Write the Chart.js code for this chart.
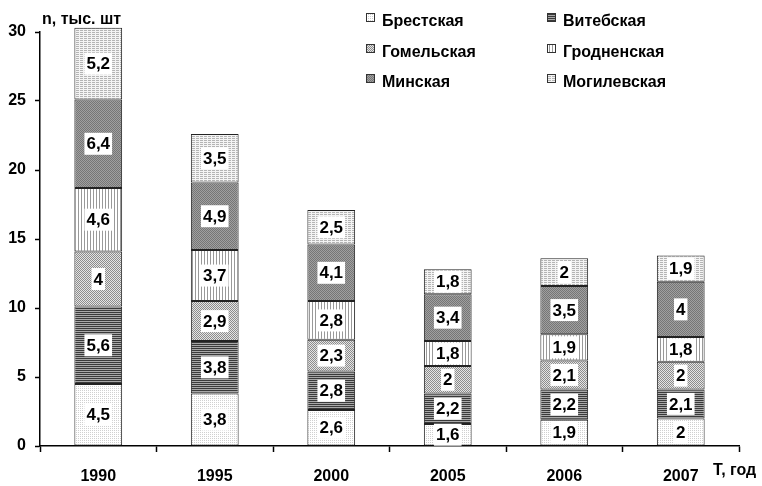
<!DOCTYPE html>
<html>
<head>
<meta charset="utf-8">
<script src="https://cdn.jsdelivr.net/npm/chart.js@4.4.0/dist/chart.umd.min.js"></script>
<style>
  html, body { margin: 0; padding: 0; background: #fff; }
  #wrap { width: 762px; height: 486px; position: relative; }
</style>
</head>
<body>
<div id="wrap"><canvas id="chart"></canvas></div>
<script>
// Data
const years = ['1990', '1995', '2000', '2005', '2006', '2007'];
const regions = ['Брестская', 'Витебская', 'Гомельская', 'Гродненская', 'Минская', 'Могилевская'];
const brest    = [4.5, 3.8, 2.6, 1.6, 1.9, 2.0];
const vitebsk  = [5.6, 3.8, 2.8, 2.2, 2.2, 2.1];
const gomel    = [4.0, 2.9, 2.3, 2.0, 2.1, 2.0];
const grodno   = [4.6, 3.7, 2.8, 1.8, 1.9, 1.8];
const minsk    = [6.4, 4.9, 4.1, 3.4, 3.5, 4.0];
const mogilev  = [5.2, 3.5, 2.5, 1.8, 2.0, 1.9];
const seriesValues = [brest, vitebsk, gomel, grodno, minsk, mogilev];

// Hatch patterns drawn on small canvases
function makePattern(w, h, draw) {
    const c = document.createElement('canvas');
    c.width = w; c.height = h;
    const g = c.getContext('2d');
    draw(g);
    return document.getElementById('chart').getContext('2d').createPattern(c, 'repeat');
}
const patterns = [
    makePattern(2, 2, g => { // Brest: fine light dots
        g.fillStyle = '#fff'; g.fillRect(0, 0, 2, 2);
        g.fillStyle = '#d0d0d0'; g.fillRect(0, 0, 1, 1);
    }),
    makePattern(2, 2, g => { // Vitebsk: dark horizontal lines
        g.fillStyle = '#a8a8a8'; g.fillRect(0, 0, 2, 2);
        g.fillStyle = '#3a3a3a'; g.fillRect(0, 0, 2, 1);
    }),
    makePattern(2, 2, g => { // Gomel: checker dots
        g.fillStyle = '#e4e4e4'; g.fillRect(0, 0, 2, 2);
        g.fillStyle = '#8c8c8c'; g.fillRect(0, 0, 1, 1); g.fillRect(1, 1, 1, 1);
    }),
    makePattern(3, 3, g => { // Grodno: vertical lines
        g.fillStyle = '#fff'; g.fillRect(0, 0, 3, 3);
        g.fillStyle = '#999'; g.fillRect(0, 0, 1, 3);
    }),
    makePattern(2, 2, g => { // Minsk: dark dots
        g.fillStyle = '#a0a0a0'; g.fillRect(0, 0, 2, 2);
        g.fillStyle = '#767676'; g.fillRect(0, 0, 1, 1); g.fillRect(1, 1, 1, 1);
    }),
    makePattern(4, 2, g => { // Mogilev: light horizontal dashes
        g.fillStyle = '#f4f4f4'; g.fillRect(0, 0, 4, 2);
        g.fillStyle = '#b4b4b4'; g.fillRect(0, 0, 3, 1);
    })
];

const FONT = 'Liberation Sans, Arial, sans-serif';

// Value labels in white boxes + legend + axis titles
const decorPlugin = {
    id: 'decor',
    afterDatasetsDraw(chart) {
        const ctx = chart.ctx;
        ctx.save();
        ctx.font = 'bold 17px ' + FONT;
        ctx.textAlign = 'center';
        ctx.textBaseline = 'middle';
        chart.data.datasets.forEach((ds, i) => {
            chart.getDatasetMeta(i).data.forEach((bar, j) => {
                const txt = String(ds.data[j]).replace('.', ',');
                const cy = (bar.y + bar.base) / 2;
                const w = ctx.measureText(txt).width + 4;
                ctx.fillStyle = '#fff';
                ctx.fillRect(bar.x - w / 2, cy - 11, w, 22);
                ctx.fillStyle = '#000';
                ctx.fillText(txt, bar.x, cy + 1);
            });
        });
        ctx.restore();
    },
    afterDraw(chart) {
        const ctx = chart.ctx;
        ctx.save();
        ctx.font = 'bold 16px ' + FONT;
        ctx.textBaseline = 'alphabetic';
        ctx.textAlign = 'left';
        const cols = [366, 547];
        const rows = [26, 57, 87];
        regions.forEach((name, i) => {
            const x = cols[i % 2], y = rows[Math.floor(i / 2)];
            ctx.fillStyle = patterns[i];
            ctx.fillRect(x, y - 13, 9, 9);
            ctx.strokeStyle = '#333';
            ctx.lineWidth = 1;
            ctx.strokeRect(x + 0.5, y - 12.5, 8, 8);
            ctx.fillStyle = '#000';
            ctx.fillText(name, x + 16, y);
        });
        ctx.fillText('n, тыс. шт', 42, 24);
        ctx.fillText('Т, год', 713, 475);
        ctx.restore();
    }
};

new Chart(document.getElementById('chart'), {
    type: 'bar',
    data: {
        labels: years,
        datasets: regions.map((name, i) => ({
            label: name,
            data: seriesValues[i],
            backgroundColor: patterns[i],
            borderColor: '#222',
            borderWidth: 1,
            borderSkipped: false,
            categoryPercentage: 1,
            barPercentage: 0.41,
            clip: false
        }))
    },
    options: {
        responsive: true,
        maintainAspectRatio: false,
        animation: false,
        layout: { padding: { top: 32, right: 23, left: 0, bottom: 0 } },
        plugins: { legend: { display: false }, tooltip: { enabled: false } },
        scales: {
            x: {
                stacked: true,
                afterFit: s => { s.height = 40; },
                grid: { drawOnChartArea: false, offset: true, color: '#000', tickLength: 6, tickWidth: 1.5 },
                border: { color: '#000', width: 1.5 },
                ticks: { color: '#000', font: { family: FONT, size: 16, weight: 'bold' }, padding: 15 }
            },
            y: {
                stacked: true,
                min: 0,
                max: 30,
                afterFit: s => { s.width = 40; },
                grid: { drawOnChartArea: false, color: '#000', tickLength: 5, tickWidth: 1.5 },
                border: { color: '#000', width: 1.5 },
                ticks: { stepSize: 5, color: '#000', font: { family: FONT, size: 16, weight: 'bold' }, padding: 9 }
            }
        }
    },
    plugins: [decorPlugin]
});
</script>
</body>
</html>
